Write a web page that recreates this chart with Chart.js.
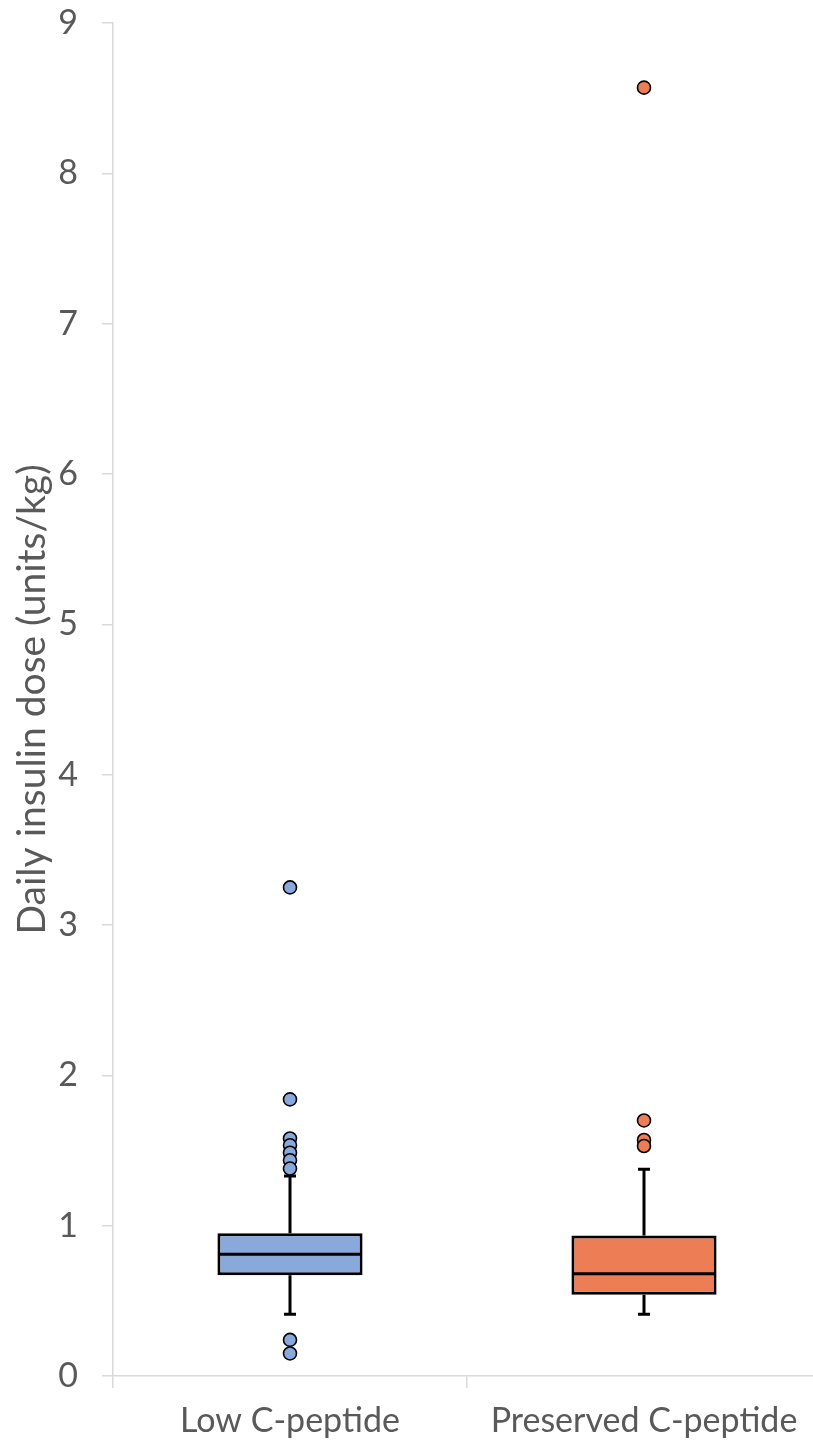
<!DOCTYPE html>
<html>
<head>
<meta charset="utf-8">
<script src="https://cdn.jsdelivr.net/npm/chart.js@4.4.0/dist/chart.umd.min.js"></script>
<style>
  html, body { margin: 0; padding: 0; background: #fff; overflow: hidden; }
  #wrap { width: 830px; height: 1448px; }
</style>
</head>
<body>
<div id="wrap"><canvas id="chart" width="830" height="1448"></canvas></div>
<script>
// box plot summary
const categories = ['Low C-peptide', 'Preserved C-peptide'];
const whiskerLow = [0.41, 0.41];
const q1 = [0.67, 0.54];
const median = [0.81, 0.68];
const q3 = [0.95, 0.935];
const whiskerHigh = [1.33, 1.375];
const outliersLow = [3.25, 1.84, 1.58, 1.535, 1.485, 1.435, 1.38, 0.24, 0.15];
const outliersPreserved = [8.57, 1.70, 1.57, 1.53];
const yTicks = [0, 1, 2, 3, 4, 5, 6, 7, 8, 9];

const fills = ['#8AA9DB', '#EC7D55'];
const textColor = '#595959';
const axisColor = '#D9D9D9';

// medians + whiskers drawn with the chart's own scales, right after the boxes
const whiskerPlugin = {
  id: 'whiskers',
  afterDatasetDraw(chart, args) {
    if (args.index !== 0) return;
    const ctx = chart.ctx;
    const y = chart.scales.y;
    ctx.save();
    ctx.strokeStyle = '#000';
    ctx.lineWidth = 3;
    args.meta.data.forEach((bar, i) => {
      const cx = bar.x;
      const half = bar.width / 2 - 1;
      const capHalf = 6;
      // median
      const ym = y.getPixelForValue(median[i]);
      ctx.beginPath();
      ctx.moveTo(cx - half, ym);
      ctx.lineTo(cx + half, ym);
      ctx.stroke();
      // upper whisker
      const yq3 = y.getPixelForValue(q3[i]);
      const yHi = y.getPixelForValue(whiskerHigh[i]);
      ctx.beginPath();
      ctx.moveTo(cx, yq3);
      ctx.lineTo(cx, yHi);
      ctx.moveTo(cx - capHalf, yHi);
      ctx.lineTo(cx + capHalf, yHi);
      ctx.stroke();
      // lower whisker
      const yq1 = y.getPixelForValue(q1[i]);
      const yLo = y.getPixelForValue(whiskerLow[i]);
      ctx.beginPath();
      ctx.moveTo(cx, yq1);
      ctx.lineTo(cx, yLo);
      ctx.moveTo(cx - capHalf, yLo);
      ctx.lineTo(cx + capHalf, yLo);
      ctx.stroke();
    });
    ctx.restore();
  }
};

new Chart(document.getElementById('chart').getContext('2d'), {
  type: 'bar',
  data: {
    labels: categories,
    datasets: [
      {
        label: 'IQR',
        data: categories.map((c, i) => [q1[i], q3[i]]),
        backgroundColor: fills,
        borderColor: '#000',
        borderWidth: 3,
        borderSkipped: false,
        barPercentage: 0.41,
        categoryPercentage: 1,
        order: 2,
      },
      {
        type: 'scatter',
        label: 'Low outliers',
        data: outliersLow.map(v => ({ x: categories[0], y: v })),
        backgroundColor: fills[0],
        borderColor: '#000',
        borderWidth: 1.6,
        pointRadius: 6.5,
        order: 1,
      },
      {
        type: 'scatter',
        label: 'Preserved outliers',
        data: outliersPreserved.map(v => ({ x: categories[1], y: v })),
        backgroundColor: fills[1],
        borderColor: '#000',
        borderWidth: 1.6,
        pointRadius: 6.5,
        order: 1,
      },
    ],
  },
  options: {
    responsive: false,
    animation: false,
    layout: { padding: { top: 23, right: 9, left: 0, bottom: 0 } },
    scales: {
      x: {
        type: 'category',
        offset: true,
        grid: { offset: true, drawOnChartArea: false, color: axisColor, tickLength: 12, lineWidth: 1.5 },
        border: { color: axisColor, width: 1.5 },
        ticks: { color: textColor, font: { family: 'Lato', size: 34 }, padding: 13, maxRotation: 0 },
        afterFit: (s) => { s.height = 72; s.paddingLeft = 0; s.paddingRight = 0; },
      },
      y: {
        min: 0,
        max: 9,
        afterBuildTicks: (s) => { s.ticks = yTicks.map(v => ({ value: v })); },
        grid: { drawOnChartArea: false, color: axisColor, tickLength: 11, lineWidth: 1.5 },
        border: { color: axisColor, width: 1.5 },
        ticks: { color: textColor, font: { family: 'Lato', size: 34 }, padding: 24 },
        title: {
          display: true,
          text: 'Daily insulin dose (units/kg)',
          color: textColor,
          font: { family: 'Lato', size: 39 },
          padding: { top: 9, bottom: 0 },
        },
        afterFit: (s) => { s.width = 113; s.paddingTop = 0; s.paddingBottom = 0; },
      },
    },
    plugins: {
      legend: { display: false },
      tooltip: { enabled: false },
    },
  },
  plugins: [whiskerPlugin],
});
</script>
</body>
</html>
